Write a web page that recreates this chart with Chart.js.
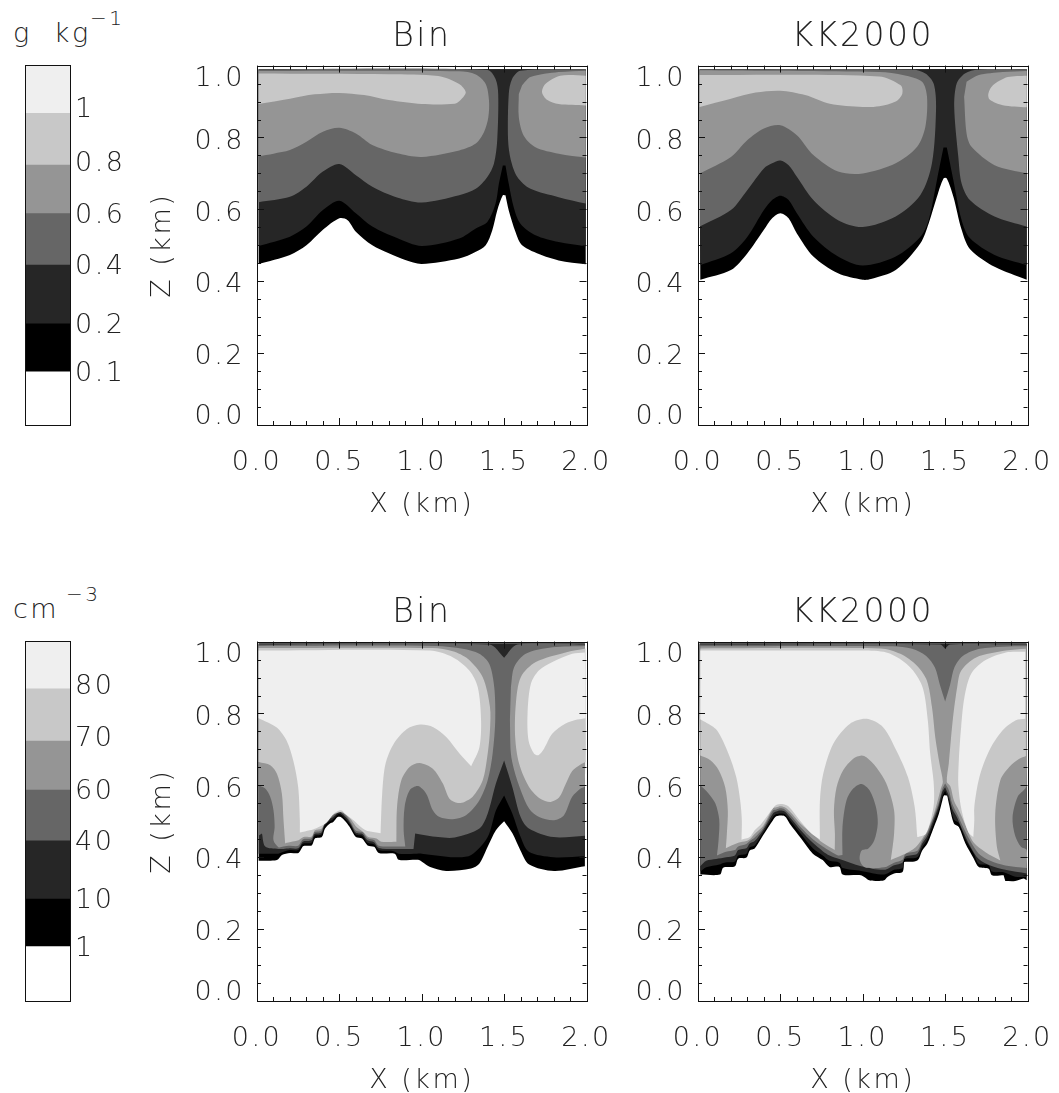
<!DOCTYPE html>
<html><head><meta charset="utf-8">
<script src="https://cdn.jsdelivr.net/npm/chart.js@4"></script>
<style>html,body{margin:0;padding:0;background:#fff}canvas{position:absolute;display:block}
.u{position:absolute;font-family:"DejaVu Sans";font-weight:200;color:#222;white-space:pre;letter-spacing:2.5px;line-height:1;opacity:.99}</style>
</head><body>
<span class="u" style="left:13px;top:19px;font-size:27px">g  kg</span><span class="u" style="left:90px;top:8px;font-size:20px">−1</span>
<span class="u" style="left:13px;top:595px;font-size:27px">cm</span><span class="u" style="left:66px;top:584px;font-size:20px">−3</span>
<script>
const xMajorLabels=['0.0','0.5','1.0','1.5','2.0'];
const xTicks=[0,.1,.2,.3,.4,.5,.6,.7,.8,.9,1,1.1,1.2,1.3,1.4,1.5,1.6,1.7,1.8,1.9,2];
const xMajor=[0,.5,1,1.5,2];
const zTicks=[0,.05,.1,.15,.2,.25,.3,.35,.4,.45,.5,.55,.6,.65,.7,.75,.8,.85,.9,.95,1];
const zMajor=[0,.2,.4,.6,.8,1];
const shades=['#000000','#262626','#666666','#959595','#c8c8c8','#efefef'];

const lwcBands=[[0,.148],[.148,.281],[.281,.444],[.444,.587],[.587,.722],[.722,.866],[.866,1]];
const lwcEdges=[.148,.281,.444,.587,.722,.866];
const lwcLabels=['0.1','0.2','0.4','0.6','0.8','1'];
const ncBands=[[0,.151],[.151,.283],[.283,.445],[.445,.586],[.586,.722],[.722,.867],[.867,1]];
const ncEdges=[.151,.283,.445,.586,.722,.867];
const ncLabels=['1','10','40','60','70','80'];

// LWC, Bin
const aL1=[[.01,.448],[.2,.473],[.3,.5],[.4,.543],[.5,.575],[.55,.57],[.6,.538],[.7,.5],[.8,.478],[.9,.459],[1,.448],[1.227,.463],[1.328,.482],[1.388,.5],[1.428,.542],[1.458,.597],[1.492,.639],[1.508,.639],[1.528,.597],[1.569,.537],[1.609,.5],[1.73,.472],[1.831,.458],[1.995,.447],[1.995,.99],[.01,.99]];
const aL2=[[.01,.498],[.2,.524],[.3,.552],[.4,.598],[.5,.624],[.6,.589],[.7,.552],[.85,.52],[1,.498],[1.227,.519],[1.328,.547],[1.398,.565],[1.448,.616],[1.468,.671],[1.492,.722],[1.508,.722],[1.528,.671],[1.558,.606],[1.599,.56],[1.69,.528],[1.831,.509],[1.995,.497],[1.995,.99],[.01,.99]];
const aL3a=[[.01,.62],[.2,.635],[.3,.663],[.4,.705],[.5,.726],[.6,.695],[.7,.663],[.85,.633],[1,.619],[1.227,.639],[1.328,.657],[1.398,.69],[1.438,.727],[1.458,.792],[1.464,.921],[1.448,.963],[1.398,.988],[.01,.99]];
const aL3b=[[1.995,.616],[1.831,.634],[1.66,.657],[1.58,.69],[1.54,.738],[1.524,.792],[1.528,.921],[1.548,.963],[1.599,.986],[1.995,.99]];
const aL4a=[[.01,.748],[.1,.755],[.2,.765],[.3,.788],[.4,.816],[.5,.827],[.6,.811],[.7,.779],[.85,.756],[1,.746],[1.227,.764],[1.328,.783],[1.378,.815],[1.404,.856],[1.408,.903],[1.388,.949],[1.328,.975],[1.227,.984],[.01,.985]];
const aL4b=[[1.589,.921],[1.589,.856],[1.619,.805],[1.69,.773],[1.831,.755],[1.995,.744],[1.995,.986],[1.831,.982],[1.66,.968],[1.609,.945]];
const aL5a=[[.01,.893],[.2,.908],[.35,.92],[.5,.924],[.65,.918],[.8,.904],[1,.893],[1.2,.894],[1.237,.905],[1.267,.926],[1.227,.949],[1.1,.971],[.8,.976],[.01,.978]];
const aL5b=[[1.995,.972],[1.841,.972],[1.75,.949],[1.73,.926],[1.76,.905],[1.831,.893],[1.995,.889]];

// LWC, KK2000
const bL1=[[.014,.404],[.2,.431],[.3,.478],[.4,.543],[.45,.575],[.5,.589],[.55,.575],[.6,.533],[.7,.469],[.85,.422],[1,.404],[1.05,.406],[1.2,.431],[1.35,.506],[1.4,.561],[1.45,.635],[1.49,.686],[1.51,.686],[1.55,.635],[1.6,.543],[1.65,.49],[1.8,.44],[1.995,.404],[1.995,.99],[.01,.99]];
const bL2=[[.014,.445],[.2,.478],[.3,.524],[.4,.598],[.45,.626],[.5,.638],[.55,.626],[.6,.589],[.7,.524],[.85,.469],[1,.444],[1.2,.469],[1.35,.524],[1.4,.57],[1.45,.681],[1.49,.772],[1.51,.772],[1.55,.681],[1.6,.57],[1.65,.52],[1.8,.473],[1.995,.445],[1.995,.99],[.01,.99]];
const bL3a=[[.01,.552],[.2,.598],[.3,.654],[.4,.714],[.45,.728],[.5,.736],[.55,.723],[.6,.691],[.7,.626],[.85,.57],[1,.551],[1.2,.58],[1.35,.64],[1.42,.728],[1.445,.885],[1.43,.95],[1.38,.978],[1.3,.989],[.01,.99]];
const bL3b=[[1.995,.552],[1.8,.58],[1.65,.626],[1.6,.672],[1.58,.746],[1.555,.885],[1.57,.95],[1.62,.978],[1.7,.989],[1.995,.99]];
const bL4a=[[.01,.7],[.2,.746],[.3,.793],[.4,.825],[.5,.834],[.6,.806],[.7,.751],[.85,.705],[1,.7],[1.2,.728],[1.33,.774],[1.38,.83],[1.39,.913],[1.36,.955],[1.25,.973],[1.1,.982],[.01,.987]];
const bL4b=[[1.615,.913],[1.63,.811],[1.66,.774],[1.8,.723],[1.995,.7],[1.995,.985],[1.85,.982],[1.7,.973],[1.63,.955]];
const bL5a=[[.01,.885],[.2,.908],[.35,.925],[.5,.93],[.65,.918],[.8,.894],[1,.885],[1.1,.887],[1.2,.9],[1.24,.922],[1.23,.945],[1.1,.97],[.01,.974]];
const bL5b=[[1.995,.972],[1.88,.968],[1.79,.945],[1.762,.922],[1.77,.906],[1.85,.89],[1.995,.884]];

// number concentration, Bin
const cL1=[[.01,.39],[.121,.392],[.151,.406],[.201,.412],[.252,.412],[.282,.431],[.332,.433],[.352,.452],[.393,.456],[.413,.48],[.443,.494],[.463,.498],[.489,.512],[.508,.512],[.54,.498],[.568,.48],[.6,.456],[.638,.452],[.671,.433],[.711,.429],[.739,.412],[.836,.41],[.86,.393],[.977,.393],[1.003,.387],[1.051,.373],[1.148,.362],[1.299,.369],[1.349,.382],[1.4,.429],[1.45,.475],[1.5,.5],[1.551,.466],[1.599,.419],[1.652,.38],[1.803,.362],[1.99,.375],[1.99,.995],[.01,.995]];
const cL2=[[.01,.41],[.13,.41],[.16,.415],[.2,.42],[.25,.42],[.28,.438],[.33,.44],[.35,.46],[.39,.463],[.41,.487],[.44,.5],[.46,.505],[.49,.519],[.51,.519],[.54,.505],[.57,.487],[.6,.463],[.64,.46],[.67,.44],[.71,.436],[.74,.42],[.83,.417],[.86,.41],[.97,.41],[1,.41],[1.2,.4],[1.3,.406],[1.4,.456],[1.45,.53],[1.5,.572],[1.55,.521],[1.6,.456],[1.65,.415],[1.8,.4],[1.99,.403],[1.99,.995],[.01,.995]];
const cL3=[[.01,.46],[.03,.466],[.05,.43],[.13,.423],[.16,.423],[.2,.425],[.25,.425],[.28,.444],[.33,.447],[.35,.465],[.39,.468],[.41,.492],[.44,.506],[.46,.511],[.49,.524],[.51,.524],[.54,.511],[.57,.492],[.6,.468],[.64,.465],[.67,.447],[.71,.442],[.74,.426],[.83,.423],[.95,.423],[.96,.466],[1.1,.456],[1.2,.455],[1.35,.48],[1.4,.521],[1.45,.605],[1.5,.669],[1.55,.595],[1.6,.512],[1.65,.48],[1.8,.456],[1.99,.46],[1.99,.992],[1.58,.992],[1.5,.955],[1.41,.992],[.01,.992]];
const cL4a=[[.01,.6],[.05,.591],[.08,.568],[.1,.531],[.107,.484],[.1,.447],[.13,.428],[.16,.43],[.2,.432],[.25,.432],[.28,.45],[.33,.453],[.35,.47],[.39,.474],[.41,.497],[.44,.511],[.46,.516],[.49,.529],[.51,.529],[.54,.516],[.57,.497],[.6,.474],[.64,.47],[.67,.453],[.71,.448],[.74,.432],[.85,.43],[.9,.43],[.89,.475],[.896,.54],[.926,.586],[.977,.598],[1.027,.577],[1.067,.531],[1.108,.512],[1.188,.506],[1.269,.517],[1.349,.558],[1.4,.614],[1.43,.688],[1.446,.781],[1.44,.873],[1.41,.938],[1.349,.966],[1.249,.98],[1.088,.988],[.01,.988]];
const cL4b=[[1.535,.781],[1.541,.688],[1.561,.642],[1.601,.586],[1.652,.535],[1.712,.512],[1.803,.503],[1.863,.517],[1.913,.568],[1.964,.591],[1.99,.598],[1.99,.988],[1.793,.984],[1.631,.966],[1.561,.929],[1.541,.873]];
const cL5a=[[.01,.982],[1.067,.982],[1.188,.973],[1.279,.952],[1.37,.901],[1.414,.818],[1.414,.753],[1.4,.688],[1.37,.614],[1.309,.568],[1.259,.554],[1.219,.551],[1.168,.563],[1.128,.605],[1.067,.646],[.987,.662],[.926,.651],[.876,.614],[.85,.54],[.846,.443],[.755,.443],[.725,.452],[.675,.456],[.645,.47],[.604,.484],[.574,.503],[.54,.519],[.508,.526],[.473,.521],[.443,.514],[.419,.503],[.393,.48],[.352,.475],[.332,.458],[.282,.456],[.252,.447],[.181,.44],[.171,.438],[.161,.503],[.151,.577],[.121,.632],[.081,.656],[.01,.665]];
const cL5b=[[1.994,.981],[1.873,.97],[1.692,.943],[1.601,.901],[1.571,.827],[1.567,.734],[1.591,.66],[1.652,.595],[1.722,.562],[1.782,.554],[1.833,.566],[1.873,.603],[1.913,.64],[1.964,.658],[1.994,.665]];
const cL6a=[[.01,.975],[1.05,.975],[1.19,.956],[1.29,.919],[1.34,.873],[1.36,.781],[1.35,.706],[1.3,.653],[1.23,.688],[1.15,.734],[1.07,.762],[.99,.769],[.91,.757],[.83,.716],[.78,.66],[.76,.578],[.75,.467],[.68,.472],[.64,.481],[.58,.505],[.54,.519],[.51,.531],[.47,.523],[.42,.495],[.36,.481],[.32,.475],[.26,.469],[.26,.503],[.25,.595],[.22,.669],[.18,.724],[.12,.761],[.01,.787]];
const cL6b=[[1.99,.97],[1.913,.966],[1.793,.943],[1.712,.92],[1.662,.882],[1.642,.799],[1.648,.725],[1.682,.688],[1.708,.684],[1.742,.702],[1.793,.744],[1.873,.772],[1.944,.783],[1.994,.787]];

// number concentration, KK2000
const dL1=[[.014,.352],[.133,.352],[.153,.371],[.224,.375],[.244,.396],[.294,.399],[.314,.419],[.344,.424],[.395,.461],[.455,.503],[.475,.514],[.526,.514],[.556,.494],[.626,.452],[.697,.41],[.757,.392],[.798,.373],[.858,.373],[.878,.352],[.988,.35],[1.009,.345],[1.039,.336],[1.09,.334],[1.13,.336],[1.15,.345],[1.19,.355],[1.241,.359],[1.251,.387],[1.331,.391],[1.361,.419],[1.392,.438],[1.432,.484],[1.462,.521],[1.483,.558],[1.493,.572],[1.513,.572],[1.523,.549],[1.553,.494],[1.583,.484],[1.623,.438],[1.674,.396],[1.704,.373],[1.764,.368],[1.784,.35],[1.855,.35],[1.865,.334],[1.925,.334],[1.976,.341],[1.995,.336],[1.995,.995],[.01,.995]];
const dL2=[[.014,.36],[.05,.372],[.13,.38],[.16,.385],[.224,.388],[.244,.405],[.294,.41],[.314,.428],[.344,.433],[.395,.468],[.455,.512],[.475,.52],[.5,.522],[.526,.52],[.556,.504],[.626,.464],[.697,.425],[.757,.405],[.798,.39],[.858,.385],[.878,.37],[.99,.362],[1.13,.352],[1.19,.365],[1.241,.37],[1.251,.395],[1.331,.4],[1.361,.428],[1.392,.45],[1.432,.497],[1.462,.534],[1.483,.57],[1.5,.585],[1.523,.56],[1.553,.505],[1.583,.495],[1.623,.45],[1.674,.41],[1.704,.382],[1.764,.378],[1.784,.36],[1.855,.358],[1.925,.346],[1.995,.345],[1.995,.995],[.01,.995]];
const dL3=[[.014,.375],[.05,.39],[.11,.395],[.17,.4],[.224,.405],[.244,.42],[.294,.425],[.314,.438],[.344,.445],[.395,.475],[.455,.522],[.475,.527],[.5,.53],[.526,.527],[.556,.512],[.626,.474],[.697,.44],[.757,.417],[.798,.405],[.858,.395],[.99,.375],[1.13,.365],[1.19,.378],[1.241,.385],[1.26,.402],[1.331,.41],[1.361,.438],[1.392,.46],[1.432,.507],[1.462,.545],[1.483,.582],[1.5,.595],[1.523,.57],[1.543,.535],[1.573,.51],[1.603,.478],[1.653,.43],[1.704,.395],[1.774,.377],[1.865,.365],[1.995,.355],[1.995,.992],[1.53,.992],[1.5,.98],[1.47,.992],[.01,.992]];
const dL4=[[.014,.6],[.065,.577],[.105,.55],[.129,.504],[.125,.449],[.115,.405],[.17,.415],[.224,.42],[.244,.43],[.294,.437],[.314,.445],[.344,.455],[.395,.481],[.455,.53],[.475,.533],[.5,.536],[.526,.533],[.556,.52],[.626,.482],[.697,.45],[.757,.43],[.798,.418],[.85,.405],[.877,.406],[.877,.484],[.901,.558],[.942,.591],[.992,.604],[1.042,.586],[1.08,.54],[1.091,.494],[1.07,.447],[1.034,.424],[.992,.418],[.982,.392],[1.012,.372],[1.13,.372],[1.19,.385],[1.241,.393],[1.26,.41],[1.331,.418],[1.361,.445],[1.392,.468],[1.432,.515],[1.462,.553],[1.483,.59],[1.5,.605],[1.523,.586],[1.543,.549],[1.573,.52],[1.603,.49],[1.653,.445],[1.704,.41],[1.774,.39],[1.865,.377],[1.995,.37],[1.995,.42],[1.96,.429],[1.925,.46],[1.909,.51],[1.94,.568],[1.995,.6],[1.995,.987],[1.85,.986],[1.71,.98],[1.607,.96],[1.556,.928],[1.53,.88],[1.5,.833],[1.468,.88],[1.438,.928],[1.385,.96],[1.3,.98],[1.18,.987],[.014,.987]];
const dL5a=[[.014,.981],[1.107,.981],[1.228,.966],[1.329,.933],[1.389,.892],[1.42,.818],[1.44,.734],[1.466,.66],[1.486,.61],[1.473,.59],[1.452,.553],[1.422,.507],[1.372,.46],[1.321,.428],[1.241,.406],[1.17,.392],[1.19,.465],[1.19,.531],[1.143,.605],[1.083,.65],[1.022,.678],[.992,.683],[.942,.674],[.881,.642],[.841,.595],[.825,.531],[.831,.466],[.83,.42],[.757,.44],[.697,.465],[.626,.492],[.556,.528],[.526,.539],[.5,.542],[.475,.539],[.455,.536],[.395,.487],[.344,.465],[.314,.45],[.294,.445],[.244,.44],[.169,.425],[.175,.465],[.181,.53],[.165,.595],[.125,.643],[.075,.67],[.014,.683]];
const dL5b=[[1.99,.98],[1.869,.975],[1.688,.956],[1.597,.919],[1.573,.873],[1.546,.781],[1.522,.66],[1.51,.61],[1.532,.597],[1.553,.558],[1.583,.531],[1.623,.49],[1.674,.44],[1.745,.414],[1.835,.391],[1.814,.429],[1.804,.521],[1.835,.614],[1.889,.651],[1.95,.674],[1.99,.682]];
const dL6a=[[.014,.975],[1.002,.975],[1.143,.97],[1.224,.952],[1.304,.92],[1.365,.87],[1.395,.78],[1.409,.69],[1.43,.61],[1.432,.55],[1.412,.503],[1.382,.465],[1.331,.456],[1.315,.54],[1.274,.623],[1.204,.697],[1.123,.762],[1.022,.785],[.921,.771],[.821,.716],[.76,.632],[.74,.558],[.74,.45],[.688,.466],[.617,.503],[.548,.542],[.5,.548],[.465,.542],[.385,.493],[.344,.475],[.314,.456],[.264,.449],[.266,.503],[.256,.558],[.232,.623],[.185,.688],[.115,.753],[.044,.776],[.014,.784]];
const dL6b=[[1.986,.972],[1.869,.97],[1.738,.947],[1.657,.91],[1.617,.845],[1.597,.762],[1.583,.669],[1.58,.6],[1.6,.53],[1.64,.47],[1.671,.456],[1.677,.503],[1.677,.54],[1.708,.623],[1.768,.697],[1.849,.753],[1.929,.781],[1.986,.785]];

const lwcBinLayers=[[aL5a,4],[aL5b,4],[aL4a,3],[aL4b,3],[aL3a,2],[aL3b,2],[aL2,1],[aL1,0]];
const lwcKkLayers=[[bL5a,4],[bL5b,4],[bL4a,3],[bL4b,3],[bL3a,2],[bL3b,2],[bL2,1],[bL1,0]];
const ncBinLayers=[[cL6a,5],[cL6b,5],[cL5a,4],[cL5b,4],[cL4a,3],[cL4b,3],[cL3,2],[cL2,1],[cL1,0]];
const ncKkLayers=[[dL6a,5],[dL6b,5],[dL5a,4],[dL5b,4],[dL4,3],[dL3,2],[dL2,1],[dL1,0]];

const FONT='"DejaVu Sans"', INK='#222', LINE='#111';
Chart.defaults.font.family=FONT;
Chart.defaults.font.weight='200';
Chart.defaults.color=INK;

function mkCanvas(l,t,w,h){const c=document.createElement('canvas');c.width=w;c.height=h;c.style.left=l+'px';c.style.top=t+'px';c.style.width=w+'px';c.style.height=h+'px';document.body.appendChild(c);return c;}
function near(list,v){return list.some(m=>Math.abs(m-v)<1e-6);}
function seg(ctx,a,b,c,d){ctx.beginPath();ctx.moveTo(a,b);ctx.lineTo(c,d);ctx.stroke();}
// a repeated vertex keeps a real corner sharp under the spline tension
function withCorners(pts){
  const out=[];
  pts.forEach((p,i)=>{
    out.push({x:p[0],y:p[1]});
    const a=pts[i-1],b=pts[i+1];
    if(!a||!b)return;
    const u=[(p[0]-a[0])*165,(p[1]-a[1])*360],v=[(b[0]-p[0])*165,(b[1]-p[1])*360];
    const c=(u[0]*v[0]+u[1]*v[1])/(Math.hypot(...u)*Math.hypot(...v));
    if(c<0.3)out.push({x:p[0],y:p[1]});
  });
  return out;
}

const spacing={id:'spacing',beforeDraw(ch){ch.ctx.letterSpacing=ch.options.plugins.spacing.px+'px';}};
const shift={id:'shift',beforeDraw(ch,a,o){
  const s=ch.scales.y; const m=o.map||{};
  s.getLabelItems(ch.chartArea).forEach(it=>{ if(m[it.label]!==undefined && !it._done){it.options.translation[1]+=m[it.label];it._done=true;} });
}};
const box={id:'box',afterDraw(ch,a,o){
  const {left:L,right:R,top:T,bottom:B}=ch.chartArea,ctx=ch.ctx;
  ctx.save();ctx.strokeStyle=LINE;ctx.lineWidth=1;
  ctx.strokeRect(Math.round(L)+.5,Math.round(T)+.5,Math.round(R-L),Math.round(B-T));
  if(o.ticks){
    ch.scales.x.ticks.forEach(t=>{const p=Math.round(ch.scales.x.getPixelForValue(t.value))+.5,l=near(xMajor,t.value)?7:4;seg(ctx,p,B,p,B-l);seg(ctx,p,T,p,T+l);});
    ch.scales.y.ticks.forEach(t=>{const p=Math.round(ch.scales.y.getPixelForValue(t.value))+.5,l=near(zMajor,t.value)?7:4;seg(ctx,L,p,L+l,p);seg(ctx,R,p,R-l,p);});
  }
  ctx.restore();
}};

function panel(left,top,title,layers,showZ){
  const cv=mkCanvas(left-127,top-65,127+331+42,530);
  new Chart(cv,{type:'scatter',
    data:{datasets:layers.map((l,i)=>({data:withCorners(l[0]),showLine:true,fill:'shape',tension:.3,borderWidth:0,pointRadius:0,backgroundColor:shades[l[1]],borderColor:shades[l[1]],order:i}))},
    plugins:[spacing,shift,box],
    options:{responsive:false,animation:false,events:[],
      layout:{autoPadding:false,padding:{left:0,right:22,top:0,bottom:0}},
      plugins:{legend:{display:false},tooltip:{enabled:false},spacing:{px:2.5},box:{ticks:true},
        shift:{map:{'0.0':-8,'0.2':4,'0.4':4,'0.6':5,'0.8':5,'1.0':13}},
        title:{display:true,text:title,font:{size:33,weight:'200'},color:INK,padding:{top:18,bottom:8},fullSize:false}},
      scales:{
        x:{type:'linear',min:0,max:2,grid:{display:false,drawTicks:false},border:{display:false},
          afterBuildTicks(s){s.ticks=xTicks.map(v=>({value:v}));},
          afterFit(s){s.height=105;},
          ticks:{autoSkip:false,maxRotation:0,padding:22,font:{size:27,weight:'200'},color:INK,callback(v){const i=xMajor.findIndex(m=>Math.abs(m-v)<1e-6);return i>=0?xMajorLabels[i]:'';}},
          title:{display:true,text:'X (km)',font:{size:27,weight:'200'},color:INK,padding:{top:0,bottom:9}}},
        y:{type:'linear',min:0,max:1,grid:{display:false,drawTicks:false},border:{display:false},
          afterBuildTicks(s){s.ticks=zTicks.map(v=>({value:v}));},
          afterFit(s){s.width=127;},
          ticks:{autoSkip:false,padding:12,font:{size:27,weight:'200'},color:INK,callback(v){return near(zMajor,v)?v.toFixed(1):'';}},
          title:{display:showZ,text:'Z (km)',font:{size:27,weight:'200'},color:INK,padding:{top:17,bottom:0}}}
      }}});
}

function colorbar(top,w,bands,edges,labels,map){
  const cv=mkCanvas(0,top-65,w,530);
  new Chart(cv,{type:'bar',
    data:{labels:['band'],datasets:bands.map((b,i)=>({data:[b],backgroundColor:i===0?'#ffffff':shades[i-1],borderWidth:0,barPercentage:1,categoryPercentage:1,grouped:false}))},
    plugins:[spacing,shift,box],
    options:{responsive:false,animation:false,events:[],
      layout:{autoPadding:false,padding:{left:25,right:0,top:65,bottom:105}},
      plugins:{legend:{display:false},tooltip:{enabled:false},spacing:{px:2.5},box:{ticks:false},shift:{map},title:{display:false}},
      scales:{
        x:{display:false},
        y:{type:'linear',position:'right',min:0,max:1,grid:{display:false,drawTicks:false},border:{display:false},
          afterBuildTicks(s){s.ticks=edges.map(v=>({value:v}));},
          afterFit(s){s.width=w-70;},
          ticks:{autoSkip:false,padding:5,font:{size:27,weight:'200'},color:INK,callback(v){return labels[edges.findIndex(e=>Math.abs(e-v)<1e-6)];}}}
      }}});
}

colorbar(65,130,lwcBands,lwcEdges,lwcLabels,{'0.1':2,'0.2':2,'0.4':2,'0.6':2,'1':-3,'0.8':-1});
panel(257,65,'Bin',lwcBinLayers,true);
panel(698,65,'KK2000',lwcKkLayers,false);
colorbar(641,130,ncBands,ncEdges,ncLabels,{'1':2,'10':2,'40':2,'60':2,'80':-2,'70':-2});
panel(257,641,'Bin',ncBinLayers,true);
panel(698,641,'KK2000',ncKkLayers,false);
</script>
</body></html>
